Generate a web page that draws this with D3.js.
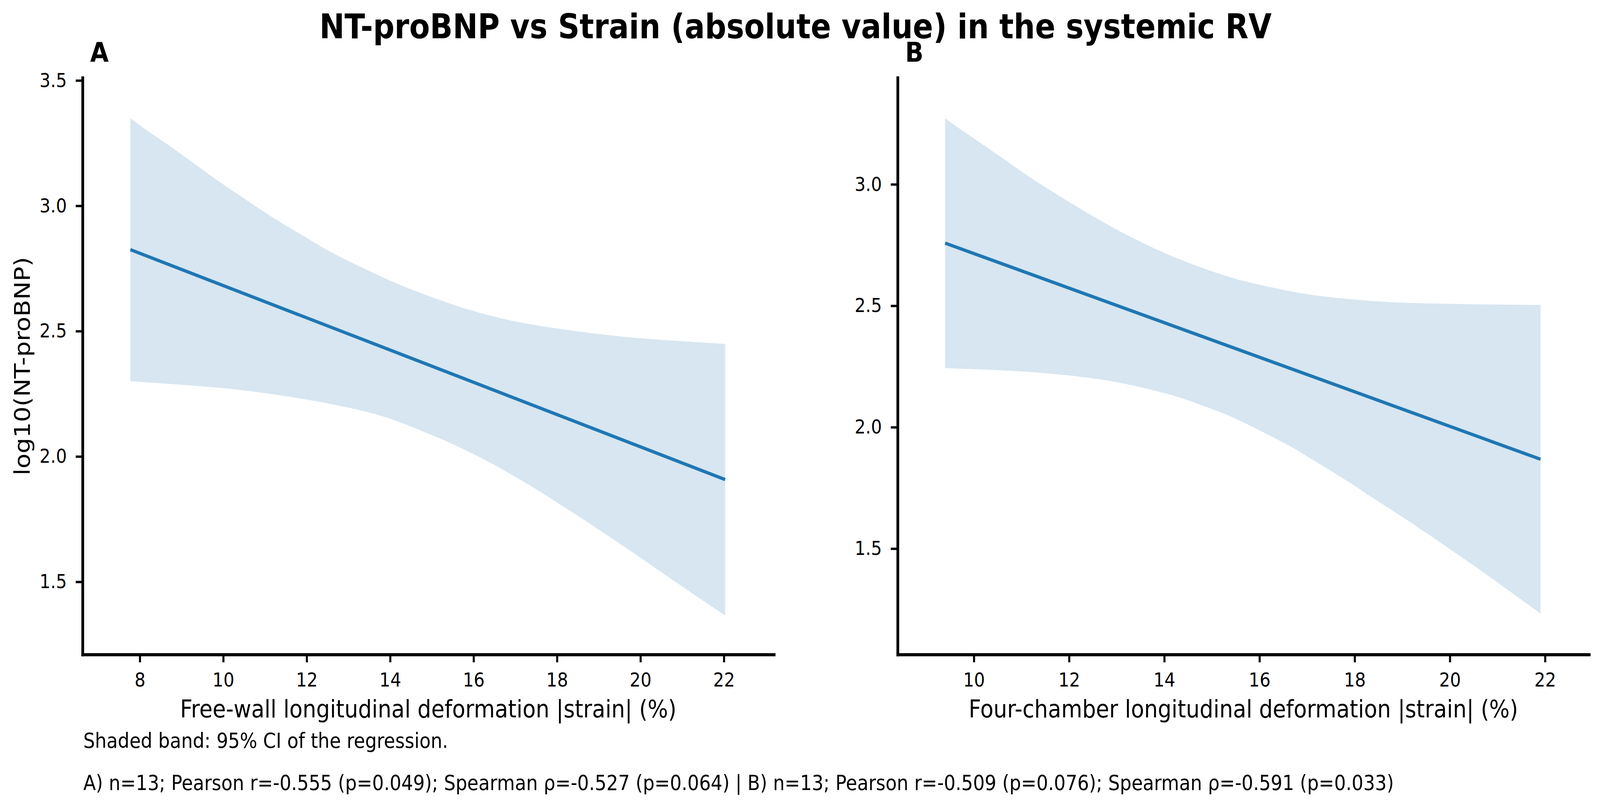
<!DOCTYPE html>
<html><head><meta charset="utf-8">
<script src="https://cdn.jsdelivr.net/npm/d3@7/dist/d3.min.js"></script>
<style>
html,body{margin:0;padding:0;background:#fff;width:100%;height:100%;overflow:hidden}
svg{display:block;width:100vw;height:100vh}
text{font-family:"DejaVu Sans",sans-serif;fill:#000}
</style>
</head><body>
<svg id="chart" viewBox="0 0 4670 2069" preserveAspectRatio="none"></svg>
<script>
// ---------- data ----------
const titleText = "NT-proBNP vs Strain (absolute value) in the systemic RV";
const panelLetters = ["A", "B"];
const xAxisLabels = ["Free-wall longitudinal deformation |strain| (%)", "Four-chamber longitudinal deformation |strain| (%)"];
const yAxisLabel = "log10(NT-proBNP)";
const noteLines = [
  "Shaded band: 95% CI of the regression.",
  "A) n=13; Pearson r=-0.555 (p=0.049); Spearman \u03c1=-0.527 (p=0.064) | B) n=13; Pearson r=-0.509 (p=0.076); Spearman \u03c1=-0.591 (p=0.033)"
];

const xTicksA = [8, 10, 12, 14, 16, 18, 20, 22];
const yTicksA = [1.5, 2.0, 2.5, 3.0, 3.5];
const xTicksB = [10, 12, 14, 16, 18, 20, 22];
const yTicksB = [1.5, 2.0, 2.5, 3.0];

// Panel A regression line and CI band
const lineAX = [7.774, 22.03];
const lineAY = [2.825, 1.908];
const upperAX = [7.774, 8.17, 8.757, 9.345, 9.933, 10.574, 11.216, 11.91, 12.605, 13.374, 14.261, 15.33, 16.025, 16.847, 17.947, 19.636, 22.03];
const upperAY = [3.349, 3.301, 3.234, 3.163, 3.093, 3.021, 2.950, 2.881, 2.813, 2.750, 2.683, 2.616, 2.579, 2.544, 2.512, 2.477, 2.449];
const lowerAX = [7.774, 10.147, 11.749, 12.764, 13.62, 14.261, 14.816, 15.33, 15.757, 16.206, 16.59, 16.954, 17.307, 17.68, 18.054, 18.696, 19.337, 19.924, 20.513, 21.42, 22.03];
const lowerAY = [2.300, 2.270, 2.234, 2.203, 2.170, 2.135, 2.098, 2.062, 2.029, 1.992, 1.958, 1.923, 1.889, 1.851, 1.811, 1.742, 1.671, 1.605, 1.537, 1.434, 1.366];

// Panel B regression line and CI band
const lineBX = [9.395, 21.905];
const lineBY = [2.758, 1.868];
const upperBX = [9.395, 9.745, 10.029, 10.549, 11.088, 11.655, 12.232, 12.866, 13.527, 14.312, 15.343, 16.033, 17.045, 18.161, 19.106, 21.905];
const upperBY = [3.272, 3.223, 3.185, 3.115, 3.041, 2.969, 2.900, 2.828, 2.761, 2.692, 2.620, 2.585, 2.546, 2.523, 2.512, 2.503];
const lowerBX = [9.395, 11.116, 12.724, 13.65, 14.312, 14.804, 15.277, 15.684, 16.061, 16.411, 16.742, 17.026, 17.357, 17.64, 17.953, 18.208, 18.491, 18.776, 19.059, 19.295, 19.579, 19.816, 20.052, 20.335, 20.6, 20.856, 21.14, 21.622, 21.905];
const lowerBY = [2.243, 2.228, 2.195, 2.158, 2.123, 2.089, 2.054, 2.018, 1.981, 1.946, 1.911, 1.877, 1.838, 1.803, 1.765, 1.731, 1.695, 1.659, 1.623, 1.592, 1.555, 1.523, 1.491, 1.453, 1.417, 1.381, 1.341, 1.273, 1.232];

// ---------- layout ----------
const svg = d3.select("#chart");
const blue = "#1f77b4";
const plotTop = 199, plotBottom = 1676;

const panels = [
  {letter: panelLetters[0], xlab: xAxisLabels[0], left: 241, right: 2259, xd: [6.628, 23.2], yd: [1.210, 3.511],
   xt: xTicksA, yt: yTicksA, lx: lineAX, ly: lineAY, ux: upperAX, uy: upperAY, bx: lowerAX, by: lowerAY, ylabel: true},
  {letter: panelLetters[1], xlab: xAxisLabels[1], left: 2620, right: 4638, xd: [8.398, 22.924], yd: [1.064, 3.439],
   xt: xTicksB, yt: yTicksB, lx: lineBX, ly: lineBY, ux: upperBX, uy: upperBY, bx: lowerBX, by: lowerBY, ylabel: false}
];

panels.forEach(p => {
  const x = d3.scaleLinear().domain(p.xd).range([p.left, p.right]);
  const y = d3.scaleLinear().domain(p.yd).range([plotBottom, plotTop]);
  const g = svg.append("g");

  // CI band
  const up = p.ux.map((v, i) => [v, p.uy[i]]);
  const lo = p.bx.map((v, i) => [v, p.by[i]]).reverse();
  const gen = d3.line().x(d => x(d[0])).y(d => y(d[1])).curve(d3.curveCatmullRom);
  const path = gen(up) + "L" + gen(lo).slice(1) + "Z";
  g.append("path").attr("d", path).attr("fill", blue).attr("fill-opacity", 0.18).attr("stroke", "none");

  // regression line
  const pts = p.lx.map((v, i) => [v, p.ly[i]]);
  g.append("path").attr("d", d3.line().x(d => x(d[0])).y(d => y(d[1]))(pts))
    .attr("fill", "none").attr("stroke", blue).attr("stroke-width", 8.5).attr("stroke-linecap", "butt");

  // axes
  const xa = g.append("g").attr("transform", `translate(0,${plotBottom})`)
    .call(d3.axisBottom(x).tickValues(p.xt).tickFormat(d3.format("d")).tickSize(20).tickSizeOuter(0).tickPadding(27));
  const ya = g.append("g").attr("transform", `translate(${p.left},0)`)
    .call(d3.axisLeft(y).tickValues(p.yt).tickFormat(d3.format(".1f")).tickSize(20).tickSizeOuter(0).tickPadding(26));
  [xa, ya].forEach(a => {
    a.select(".domain").attr("stroke", "#000").attr("stroke-width", 8).attr("stroke-linecap", "square");
    a.selectAll(".tick line").attr("stroke", "#000").attr("stroke-width", 6);
    a.selectAll(".tick text").attr("font-size", 50).attr("font-family", "DejaVu Sans").attr("fill", "#000");
  });

  // x label
  g.append("text").attr("x", (p.left + p.right) / 2).attr("y", 1837).attr("text-anchor", "middle")
    .attr("font-size", 63).text(p.xlab);
  // y label
  if (p.ylabel) {
    g.append("text").attr("transform", `translate(87,${(plotTop + plotBottom) / 2}) rotate(-90)`)
      .attr("text-anchor", "middle").attr("font-size", 63).text(yAxisLabel);
  }
  // panel letter
  g.append("text").attr("x", p.left + 22).attr("y", 158).attr("font-size", 70).attr("font-weight", "bold").text(p.letter);
});

// title
svg.append("text").attr("x", 2322).attr("y", 98).attr("text-anchor", "middle")
  .attr("font-size", 87.5).attr("font-weight", "bold").text(titleText);

// notes
svg.append("text").attr("x", 243).attr("y", 1915).attr("font-size", 53.6).text(noteLines[0]);
svg.append("text").attr("x", 243).attr("y", 2023).attr("font-size", 53.6).text(noteLines[1]);
</script>
</body></html>
